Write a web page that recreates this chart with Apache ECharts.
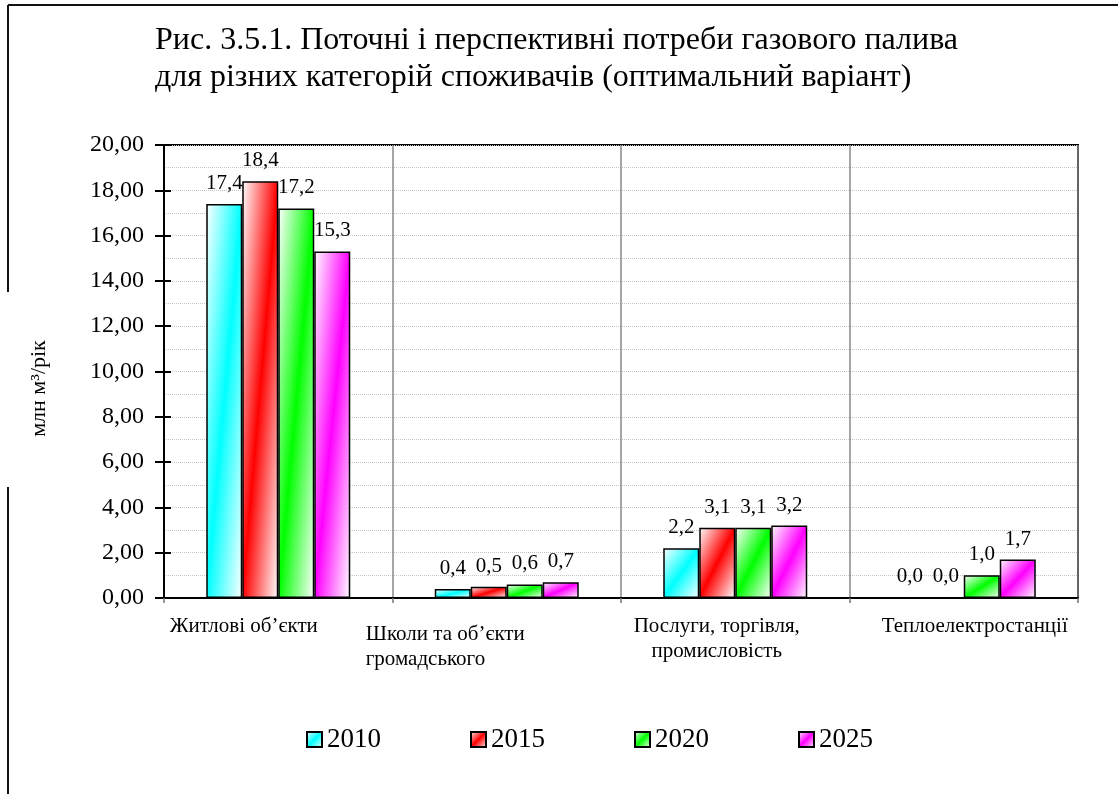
<!DOCTYPE html>
<html>
<head>
<meta charset="utf-8">
<script src="https://cdn.jsdelivr.net/npm/echarts@6/dist/echarts.min.js"></script>
<style>
  html, body { margin: 0; padding: 0; background: #fff; }
  #chart { width: 1118px; height: 794px; }
</style>
</head>
<body>
<div id="chart"></div>
<script>
// Gas fuel demand by consumer category, million m³ per year
const categories = [
  'Житлові об’єкти',
  'Школи та об’єкти\nгромадського',
  'Послуги, торгівля,\nпромисловість',
  'Теплоелектростанції'
];
const years = ['2010', '2015', '2020', '2025'];
const v2010 = [17.4, 0.4, 2.2, 0.0];
const v2015 = [18.4, 0.5, 3.1, 0.0];
const v2020 = [17.2, 0.6, 3.1, 1.0];
const v2025 = [15.3, 0.7, 3.2, 1.7];
const yMin = 0, yMax = 20, yStep = 2;

const FONT = "'Liberation Serif', 'Times New Roman', serif";
const seriesColors = ['#00FFFF', '#FF0000', '#00FF00', '#FF00FF'];
const seriesValues = [v2010, v2015, v2020, v2025];

const GRID = { left: 164, right: 40, top: 145, bottom: 196 };
const plotH = 794 - GRID.top - GRID.bottom;
const BAR_W = 36;

// Diagonal fill: white at top-left and bottom-right corners,
// full colour along the bottom-left → top-right diagonal.
function diagFill(color, w, h) {
  const s2 = w * w + h * h || 1;
  const a = (h * h) / s2, b = (w * w) / s2;
  return new echarts.graphic.LinearGradient(0.5 - a, 0.5 - b, 0.5 + a, 0.5 + b, [
    { offset: 0, color: '#FFFFFF' },
    { offset: 0.5, color: color },
    { offset: 1, color: '#FFFFFF' }
  ]);
}

const fmt1 = v => v.toFixed(1).replace('.', ',');
const fmt2 = v => v.toFixed(2).replace('.', ',');

const series = years.map((yr, si) => ({
  name: yr,
  type: 'bar',
  barWidth: BAR_W,
  barGap: '0%',
  itemStyle: {
    color: diagFill(seriesColors[si], 1, 1),
    borderColor: '#000',
    borderWidth: 1.5
  },
  label: {
    show: true,
    position: 'top',
    distance: 10,
    color: '#000',
    fontFamily: FONT,
    fontSize: 21,
    formatter: p => fmt1(p.value)
  },
  data: seriesValues[si].map(v => ({
    value: v,
    itemStyle: { color: diagFill(seriesColors[si], BAR_W, v / yMax * plotH) }
  }))
}));

const CAT_FS = 21, CAT_LH = 25;
const catBase = { fontFamily: FONT, fontSize: CAT_FS, lineHeight: CAT_LH, color: '#000' };
const catRich = {
  sp: { fontFamily: FONT, fontSize: 8, lineHeight: 8 },
  c0: Object.assign({}, catBase, { padding: [0, 69, 0, 0] }),
  c1: Object.assign({}, catBase, { align: 'left', padding: [0, 123, 0, 0] }),
  c2: Object.assign({}, catBase, { padding: [0, 37, 0, 0] }),
  c3: Object.assign({}, catBase, { padding: [0, 0, 0, 22] })
};

function catLabel(value, index) {
  const key = ['c0', 'c1', 'c2', 'c3'][index];
  const body = value.split('\n').map(l => '{' + key + '|' + l + '}').join('\n');
  // the second category sits a little lower
  return index === 1 ? '{sp| }\n' + body : body;
}

const yBase = {
  type: 'value',
  min: yMin,
  max: yMax,
  interval: yStep,
  position: 'left'
};

const option = {
  backgroundColor: '#fff',
  animation: false,
  title: {
    text: 'Рис. 3.5.1. Поточні і перспективні потреби газового палива\nдля різних категорій споживачів (оптимальний варіант)',
    left: 150,
    top: 17,
    textStyle: {
      fontFamily: FONT,
      fontSize: 32,
      fontWeight: 'normal',
      color: '#000',
      lineHeight: 37
    }
  },
  legend: {
    data: years,
    left: 301,
    top: 721,
    icon: 'rect',
    itemWidth: 15,
    itemHeight: 15,
    itemGap: 89,
    textStyle: { fontFamily: FONT, fontSize: 27, color: '#000' }
  },
  grid: {
    left: GRID.left,
    right: GRID.right,
    top: GRID.top,
    bottom: GRID.bottom,
    show: true,
    borderColor: '#000',
    borderWidth: 2,
    backgroundColor: '#fff'
  },
  xAxis: {
    type: 'category',
    data: categories,
    boundaryGap: true,
    axisLine: { show: true, lineStyle: { color: '#000', width: 2 } },
    axisTick: { show: true, length: 5, interval: 0, lineStyle: { color: '#777', width: 1.5 } },
    splitLine: { show: true, interval: 0, lineStyle: { color: '#888', width: 1.5 } },
    axisLabel: {
      interval: 0,
      margin: 16,
      fontFamily: FONT,
      fontSize: CAT_FS,
      color: '#000',
      formatter: catLabel,
      rich: catRich
    }
  },
  yAxis: [
    Object.assign({}, yBase, {
      name: 'млн м³/рік',
      nameLocation: 'middle',
      nameRotate: 90,
      nameGap: 114,
      nameTextStyle: { fontFamily: FONT, fontSize: 22, color: '#000', padding: [0, 34, 0, 0] },
      axisLine: { show: true, lineStyle: { color: '#000', width: 2 } },
      axisTick: { show: true, inside: false, length: 9, lineStyle: { color: '#000', width: 2 } },
      axisLabel: {
        margin: 20,
        fontFamily: FONT,
        fontSize: 24,
        color: '#000',
        formatter: v => fmt2(v)
      },
      splitLine: { show: true, lineStyle: { color: '#c4c4c4', type: 'dotted', width: 1 } },
      minorTick: { show: false, splitNumber: 2 },
      minorSplitLine: { show: true, lineStyle: { color: '#c4c4c4', type: 'dotted', width: 1 } }
    }),
    Object.assign({}, yBase, {
      axisLine: { show: false },
      axisTick: { show: true, inside: true, length: 7, lineStyle: { color: '#000', width: 2 } },
      axisLabel: { show: false },
      splitLine: { show: false }
    })
  ],
  graphic: [
    { type: 'line', shape: { x1: 8, y1: 5, x2: 1118, y2: 5 }, style: { stroke: '#111', lineWidth: 2 } },
    { type: 'line', shape: { x1: 8, y1: 5, x2: 8, y2: 292 }, style: { stroke: '#111', lineWidth: 2 } },
    { type: 'line', shape: { x1: 8, y1: 487, x2: 8, y2: 794 }, style: { stroke: '#111', lineWidth: 2 } }
  ],
  series: series
};

const chart = echarts.init(document.getElementById('chart'), null, { renderer: 'canvas' });
chart.setOption(option);
</script>
</body>
</html>
